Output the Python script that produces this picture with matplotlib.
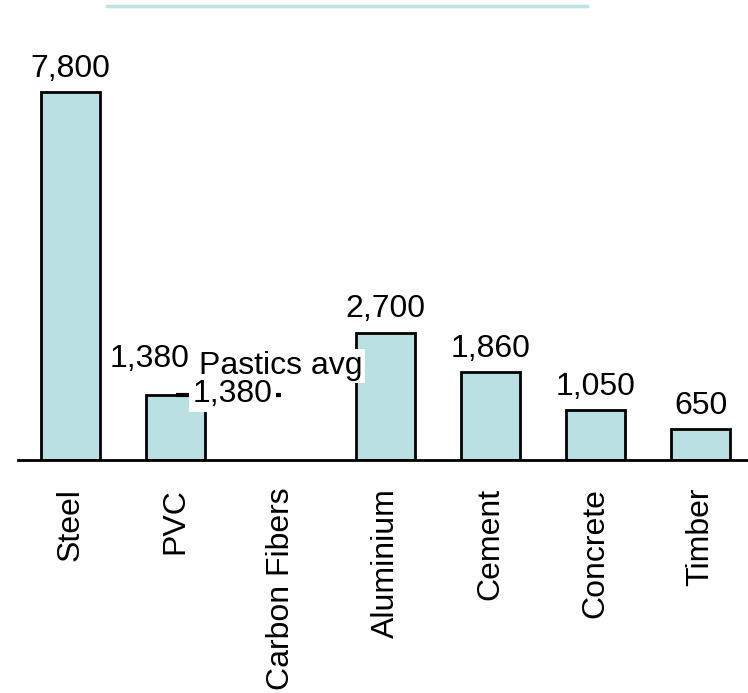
import numpy as np
import matplotlib
matplotlib.use('Agg')
import matplotlib.pyplot as plt
from matplotlib.lines import Line2D

materials = ['Steel', 'PVC', 'Carbon Fibers', 'Aluminium', 'Cement', 'Concrete', 'Timber']
density = [7800, 1380, np.nan, 2700, 1860, 1050, 650]
plastics_avg = 1380
plastics_span = [1, 2]   # PVC .. Carbon Fibers

plt.rcParams['font.family'] = ['Liberation Sans', 'DejaVu Sans']
fs = 23

fig = plt.figure(figsize=(7.48, 6.93), dpi=100)
ax = fig.add_axes([0.0241, 0.3362, 0.9759, 0.6127])

x = np.arange(len(materials))
ax.bar(x, density, width=0.57, color='#bbe0e3', edgecolor='black', linewidth=2, zorder=2)

# value labels above the bars
for xi, v in zip(x, density):
    if np.isnan(v):
        continue
    dx, dy = (-19, 15) if materials[xi] == 'PVC' else (0, 6)
    ax.annotate(f'{v:,.0f}', xy=(xi, v), xytext=(dx, dy), textcoords='offset points',
                ha='center', va='bottom', fontsize=fs, zorder=4)

# plastics average marker
ax.hlines(plastics_avg, plastics_span[0], plastics_span[1], colors='black', linewidth=3, zorder=3)
ax.annotate('Pastics avg', xy=(plastics_span[1], plastics_avg), xytext=(0, 15),
            textcoords='offset points', ha='center', va='baseline', fontsize=fs, zorder=4,
            bbox=dict(facecolor='white', edgecolor='none', pad=1.5))
ax.annotate(f'{plastics_avg:,}', xy=(np.mean(plastics_span) + 0.04, plastics_avg), xytext=(0, 1),
            textcoords='offset points', ha='center', va='center', fontsize=fs, zorder=5,
            bbox=dict(facecolor='white', edgecolor='none', pad=2.5))

ax.set_xlim(-0.5, 6.452)
ax.set_ylim(0, 9000)
ax.set_xticks(x)
ax.set_xticklabels(materials, rotation=90, fontsize=fs)
ax.tick_params(axis='x', length=0, pad=20)
ax.set_yticks([])
for side in ['left', 'right', 'top']:
    ax.spines[side].set_visible(False)
ax.spines['bottom'].set_linewidth(2)

fig.add_artist(Line2D([107 / 748, 587 / 748], [1 - 6 / 693] * 2, color='#bde3e5', linewidth=2.5))

fig.savefig('out.png', dpi=100)
